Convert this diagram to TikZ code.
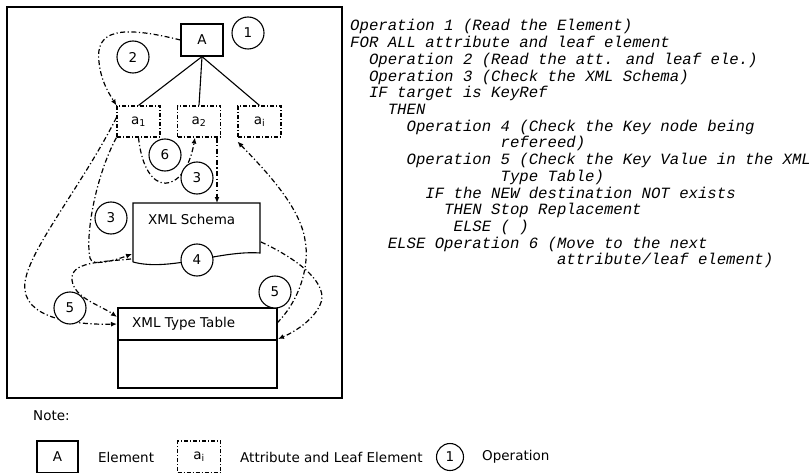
\documentclass[tikz,border=0pt]{standalone}
\usepackage{fontspec}
\setmainfont{DejaVu Sans}
\newfontfamily\codefont{Liberation Mono}
\usetikzlibrary{arrows.meta}
\tikzset{
  elem/.style={draw,line width=1.2pt,minimum width=42pt,minimum height=32pt,inner sep=0pt,font=\fontsize{13.5}{16}\selectfont},
  attr/.style={draw,line width=1.1pt,dash pattern=on 4pt off 2pt on 1pt off 2pt,minimum width=43pt,minimum height=31pt,inner sep=0pt,font=\fontsize{13.5}{16}\selectfont},
  op/.style={circle,draw,fill=white,line width=1.1pt,minimum size=32pt,inner sep=0pt,font=\fontsize{13.5}{16}\selectfont},
  flow/.style={line width=1.2pt,dash pattern=on 5pt off 2.5pt on 1.2pt off 2.5pt,-{Latex[length=6pt,width=5pt]}},
  tree/.style={line width=1.1pt},
  lbl/.style={font=\fontsize{13.5}{16}\selectfont,inner sep=0pt,anchor=west},
  code/.style={font=\codefont\itshape\fontsize{15.67}{16.7}\selectfont,inner sep=0pt,anchor=base west}
}
\begin{document}
\begin{tikzpicture}[x=1pt,y=-1pt]
\useasboundingbox (0,0) rectangle (810,473);
% frame
\node[draw,line width=1.6pt,minimum width=335pt,minimum height=391pt,inner sep=0pt] (frame) at (174.5,202.5) {};
% element and attributes
\node[elem] (A) at (202,40) {A};
\node[attr] (a1) at (138.5,121.5) {a\textsubscript{1}};
\node[attr] (a2) at (199,121.5) {a\textsubscript{2}};
\node[attr] (ai) at (259.5,121.5) {a\textsubscript{i}};
\draw[tree] (A.south) -- (a1.north);
\draw[tree] (A.south) -- (a2.north);
\draw[tree] (A.south) -- (ai.north);
% XML Schema (document shape)
\coordinate (s1) at (133,203);
\coordinate (s2) at (260,203);
\coordinate (s3) at (260,253);
\coordinate (s4) at (133,262);
\draw[line width=1.1pt] (s4) -- (s1) -- (s2) -- (s3) .. controls (220,250) and (170,272) .. (s4);
\node[lbl] (schema) at (148,219) {XML Schema};
% XML Type Table
\node[draw,line width=1.1pt,minimum width=159pt,minimum height=80pt,inner sep=0pt] (table) at (197.5,348) {};
\draw[line width=1.1pt] (118,340) coordinate (t1) -- (277,340) coordinate (t2);
\node[lbl] (tabletxt) at (132,324) {XML Type Table};
% connectors
\coordinate (tbl) at (117,317);
\coordinate (tbr) at (278,339);
\coordinate (tl) at (117,324);
\coordinate (tr) at (277,323);
\coordinate (sl) at (132,254);
\coordinate (sbl) at (131,259);
\coordinate (sr) at (261,242);
\coordinate (st) at (217,203);
\draw[flow] (A.west) .. controls (120,25) and (95,30) .. (99,62) .. controls (101,82) and (110,95) .. (a1.north west);
\draw[flow] (a1.south) .. controls (145,200) and (185,195) .. ([xshift=-4pt]a2.south);
\draw[flow] ([xshift=18pt]a2.south) -- (st);
\draw[flow] (a1.south west) .. controls (96,175) and (85,235) .. (90,258) .. controls (92,266) and (110,262) .. (sl);
\draw[flow] (sbl) .. controls (100,262) and (70,262) .. (72,280) .. controls (74,298) and (100,305) .. (tbl);
\draw[flow] ([yshift=4pt]a1.west) .. controls (80,190) and (20,260) .. (25,290) .. controls (28,320) and (80,325) .. (tl);
\draw[flow] (sr) .. controls (300,260) and (330,285) .. (320,305) .. controls (312,322) and (292,333) .. (tbr);
\draw[flow] (tr) .. controls (300,300) and (310,265) .. (305,240) .. controls (300,205) and (260,165) .. ([yshift=-4pt]ai.south west);
% operation circles
\node[op] (o1) at (248,33) {1};
\node[op] (o2) at (133,57) {2};
\node[op] (o6) at (165,155) {6};
\node[op] (o3a) at (197,178) {3};
\node[op] (o3b) at (111,218) {3};
\node[op] (o4) at (197,260) {4};
\node[op] (o5a) at (70,308) {5};
\node[op] (o5b) at (275,292) {5};
% pseudo code
\def\cw{9.4}
\def\lx{350}
\node[code] (c1) at (\lx,31) {Operation 1 (Read the Element)};
\node[code] (c2) at (\lx,47.7) {FOR ALL attribute and leaf element};
\node[code] (c3) at (\lx+2*\cw,64.4) {Operation 2 (Read the att. and leaf ele.)};
\node[code] (c4) at (\lx+2*\cw,81.1) {Operation 3 (Check the XML Schema)};
\node[code] (c5) at (\lx+2*\cw,97.8) {IF target is KeyRef};
\node[code] (c6) at (\lx+4*\cw,114.5) {THEN};
\node[code] (c7) at (\lx+6*\cw,131.2) {Operation 4 (Check the Key node being};
\node[code] (c8) at (\lx+16*\cw,147.9) {refereed)};
\node[code] (c9) at (\lx+6*\cw,164.6) {Operation 5 (Check the Key Value in the XML};
\node[code] (c10) at (\lx+16*\cw,181.3) {Type Table)};
\node[code] (c11) at (\lx+8*\cw,198) {IF the NEW destination NOT exists};
\node[code] (c12) at (\lx+10*\cw,214.7) {THEN Stop Replacement};
\node[code] (c13) at (\lx+11*\cw,231.4) {ELSE ( )};
\node[code] (c14) at (\lx+4*\cw,248.1) {ELSE Operation 6 (Move to the next};
\node[code] (c15) at (\lx+22*\cw,264.8) {attribute/leaf element)};
% legend
\node[lbl] (note) at (33,416) {Note:};
\node[elem,minimum width=41pt,minimum height=32pt] (lA) at (57.5,457) {A};
\node[lbl] (lAt) at (98,457) {Element};
\node[attr,minimum width=43pt,minimum height=32pt] (lai) at (199,457) {a\textsubscript{i}};
\node[lbl] (lait) at (240,457) {Attribute and Leaf Element};
\node[op,minimum size=27pt] (lo) at (450,457) {1};
\node[lbl] (lot) at (482,457) {Operation};
\end{tikzpicture}
\end{document}
